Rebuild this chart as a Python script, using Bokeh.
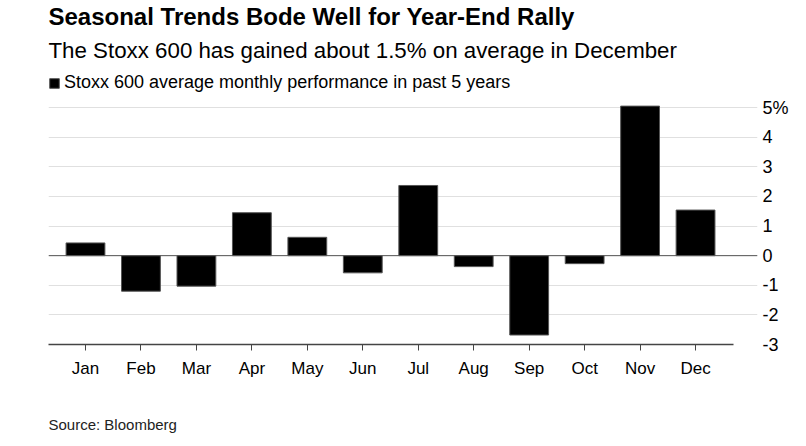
from bokeh.plotting import figure
from bokeh.models import (Range1d, FixedTicker, LinearAxis, Legend, LegendItem,
                          Span, ColumnDataSource, Title)
from bokeh.embed import file_html
from bokeh.resources import INLINE

months = ["Jan", "Feb", "Mar", "Apr", "May", "Jun", "Jul", "Aug", "Sep", "Oct", "Nov", "Dec"]
performance = [0.43, -1.2, -1.03, 1.45, 0.62, -0.58, 2.37, -0.37, -2.68, -0.27, 5.05, 1.54]
y_ticks = [-3, -2, -1, 0, 1, 2, 3, 4, 5]
y_tick_labels = ["-3", "-2", "-1", "0", "1", "2", "3", "4", "5%"]

title_text = "Seasonal Trends Bode Well for Year-End Rally"
subtitle_text = "The Stoxx 600 has gained about 1.5% on average in December"
legend_text = "Stoxx 600 average monthly performance in past 5 years"
source_text = "Source: Bloomberg"

FONT = "Liberation Sans"

src = ColumnDataSource(dict(x=list(range(len(months))), top=performance, month=months))

p = figure(width=806, height=446, output_backend="svg", toolbar_location=None,
           title=None, x_range=Range1d(-0.667, 12.117), y_range=Range1d(-3, 6.32),
           min_border_left=48, min_border_right=49, min_border_top=68, min_border_bottom=102,
           x_axis_location=None, y_axis_location=None)
p.outline_line_color = None

p.ygrid.ticker = FixedTicker(ticks=y_ticks)
p.ygrid.grid_line_color = "#e0e0e0"
p.ygrid.grid_line_width = 1
p.xgrid.grid_line_color = None

r = p.vbar(x="x", top="top", bottom=0, width=0.7, source=src,
           fill_color="black", line_color="#555555", line_width=1)

p.add_layout(Span(location=0, dimension="width", line_color="#555555", line_width=1))

xaxis = LinearAxis(ticker=FixedTicker(ticks=list(range(len(months)))),
                   major_label_overrides={i: m for i, m in enumerate(months)},
                   bounds=(-0.667, 11.685))
xaxis.axis_line_color = "#444444"
xaxis.axis_line_width = 1.5
xaxis.major_tick_in = 0
xaxis.major_tick_out = 6
xaxis.major_tick_line_color = "#444444"
xaxis.minor_tick_line_color = None
xaxis.major_label_text_font = FONT
xaxis.major_label_text_font_size = "17px"
xaxis.major_label_text_color = "black"
xaxis.major_label_standoff = 8
p.add_layout(xaxis, "below")

yaxis = LinearAxis(ticker=FixedTicker(ticks=y_ticks),
                   major_label_overrides={t: l for t, l in zip(y_ticks, y_tick_labels)})
yaxis.axis_line_color = None
yaxis.major_tick_line_color = None
yaxis.minor_tick_line_color = None
yaxis.major_tick_in = 0
yaxis.major_tick_out = 0
yaxis.major_label_standoff = 5
yaxis.major_label_text_font = FONT
yaxis.major_label_text_font_size = "18px"
yaxis.major_label_text_color = "black"
p.add_layout(yaxis, "right")

legend = Legend(items=[LegendItem(label=legend_text, renderers=[r])],
                location=(0, 251), orientation="horizontal",
                glyph_width=12, glyph_height=12, label_height=12,
                label_text_font=FONT, label_text_font_size="18px",
                label_text_color="black", label_standoff=4,
                padding=0, margin=0, border_line_color=None,
                background_fill_alpha=0)
p.add_layout(legend, "center")

# titles: first added in "above" sits closest to the frame
p.add_layout(Title(text=subtitle_text, align="left", text_font=FONT,
                   text_font_style="normal", text_font_size="22.3px",
                   text_color="black", standoff=12), "above")
p.add_layout(Title(text=title_text, align="left", text_font=FONT,
                   text_font_style="bold", text_font_size="24px",
                   text_color="black", standoff=0), "above")

# spacer between the axis labels and the source line
p.add_layout(Title(text=" ", text_font=FONT, text_font_size="10px", standoff=20), "below")
p.add_layout(Title(text=source_text, align="left", text_font=FONT,
                   text_font_style="normal", text_font_size="15px",
                   text_color="#222222", standoff=0), "below")

open("out.html", "w").write(file_html(p, INLINE))
